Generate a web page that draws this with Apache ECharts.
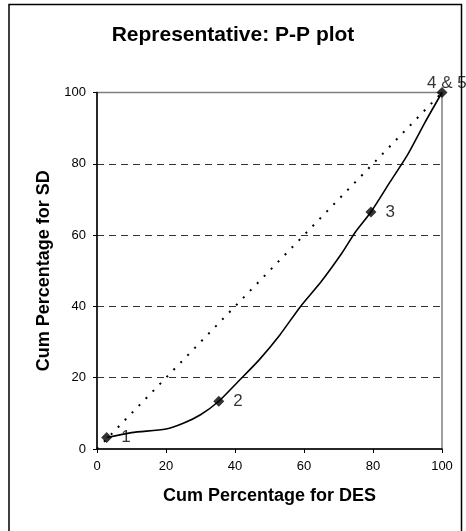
<!DOCTYPE html>
<html>
<head>
<meta charset="utf-8">
<script src="https://cdn.jsdelivr.net/npm/echarts@6/dist/echarts.min.js"></script>
<style>
  html, body { margin: 0; padding: 0; background: #fff; }
  #chart { width: 466px; height: 531px; }
</style>
</head>
<body>
<div id="chart"></div>
<script>
// Cumulative percentages (DES on x, SD on y) along the fitted curve
const curveDES = [2.8, 10, 20, 25, 30, 35.3, 41, 47, 53, 59, 65, 71, 75, 79.4, 85, 90, 95, 100];
const curveSD  = [3.2, 4.6, 5.6, 7.2, 9.6, 13.4, 19, 25, 32, 40, 47, 55, 61, 66.5, 75, 82.5, 91.5, 100];

// Marked representative points and their labels
const pointLabels = ['1', '2', '3', '4 & 5'];
const pointDES = [2.8, 35.3, 79.4, 100];
const pointSD  = [3.2, 13.4, 66.5, 100];

// Reference diagonal (equal distributions)
const diagDES = [0, 100];
const diagSD  = [0, 100];

const axisTicks = [0, 20, 40, 60, 80, 100];

const chart = echarts.init(document.getElementById('chart'), null, { renderer: 'canvas' });

const font = 'Arial, "Liberation Sans", sans-serif';

chart.setOption({
  animation: false,
  backgroundColor: '#ffffff',
  title: {
    text: 'Representative: P-P plot',
    left: 'center',
    top: 20,
    textStyle: { fontFamily: font, fontSize: 21, fontWeight: 'bold', color: '#000' }
  },
  graphic: [{
    type: 'rect',
    shape: { x: 9, y: 4.5, width: 452.5, height: 560 },
    style: { fill: 'none', stroke: '#000', lineWidth: 1.5 },
    silent: true,
    z: 100
  }],
  grid: {
    left: 97, top: 92.5, width: 345, height: 356.5,
    show: true, borderColor: '#808080', borderWidth: 1.5,
    containLabel: false
  },
  xAxis: {
    type: 'value',
    min: axisTicks[0], max: axisTicks[axisTicks.length - 1], interval: 20,
    name: 'Cum Percentage for DES',
    nameLocation: 'middle',
    nameGap: 38,
    nameTextStyle: { fontFamily: font, fontSize: 18, fontWeight: 'bold', color: '#000' },
    axisLine: { show: true, onZero: false, lineStyle: { color: '#000', width: 1.5 } },
    axisTick: { show: true, inside: false, length: 4, lineStyle: { color: '#000', width: 1 } },
    axisLabel: { fontFamily: font, fontSize: 13, color: '#000', margin: 11 },
    splitLine: { show: false }
  },
  yAxis: {
    type: 'value',
    min: axisTicks[0], max: axisTicks[axisTicks.length - 1], interval: 20,
    name: 'Cum Percentage for SD',
    nameLocation: 'middle',
    nameGap: 42,
    nameTextStyle: { fontFamily: font, fontSize: 18, fontWeight: 'bold', color: '#000' },
    axisLine: { show: true, onZero: false, lineStyle: { color: '#000', width: 1.5 } },
    axisTick: { show: true, inside: false, length: 4, lineStyle: { color: '#000', width: 1 } },
    axisLabel: { fontFamily: font, fontSize: 13, color: '#000', margin: 11 },
    splitLine: {
      show: true, showMinLine: false, showMaxLine: false,
      lineStyle: { color: '#333', width: 1, type: [7, 5] }
    }
  },
  series: [
    {
      name: 'Diagonal',
      type: 'line',
      data: diagDES.map((x, i) => [x, diagSD[i]]),
      showSymbol: false,
      symbol: 'none',
      lineStyle: { color: '#000', width: 2, type: [2, 8] },
      z: 2
    },
    {
      name: 'P-P curve',
      type: 'line',
      data: curveDES.map((x, i) => [x, curveSD[i]]),
      smooth: 0.25,
      showSymbol: false,
      symbol: 'none',
      lineStyle: { color: '#000', width: 1.6 },
      z: 3
    },
    {
      name: 'Points',
      type: 'scatter',
      data: pointDES.map((x, i) => ({ value: [x, pointSD[i]], name: pointLabels[i] })),
      symbol: 'diamond',
      symbolSize: 11,
      itemStyle: { color: '#000' },
      label: {
        show: true,
        formatter: p => p.name,
        fontFamily: font,
        fontSize: 17,
        fontWeight: 'normal',
        color: '#000',
        position: 'right',
        distance: 9
      },
      labelLayout: function (params) {
        if (params.dataIndex === 3) {
          return {
            x: params.rect.x - 9.5,
            y: params.rect.y - 4,
            align: 'left',
            verticalAlign: 'middle'
          };
        }
        return {};
      },
      z: 5
    }
  ]
});
</script>
</body>
</html>
